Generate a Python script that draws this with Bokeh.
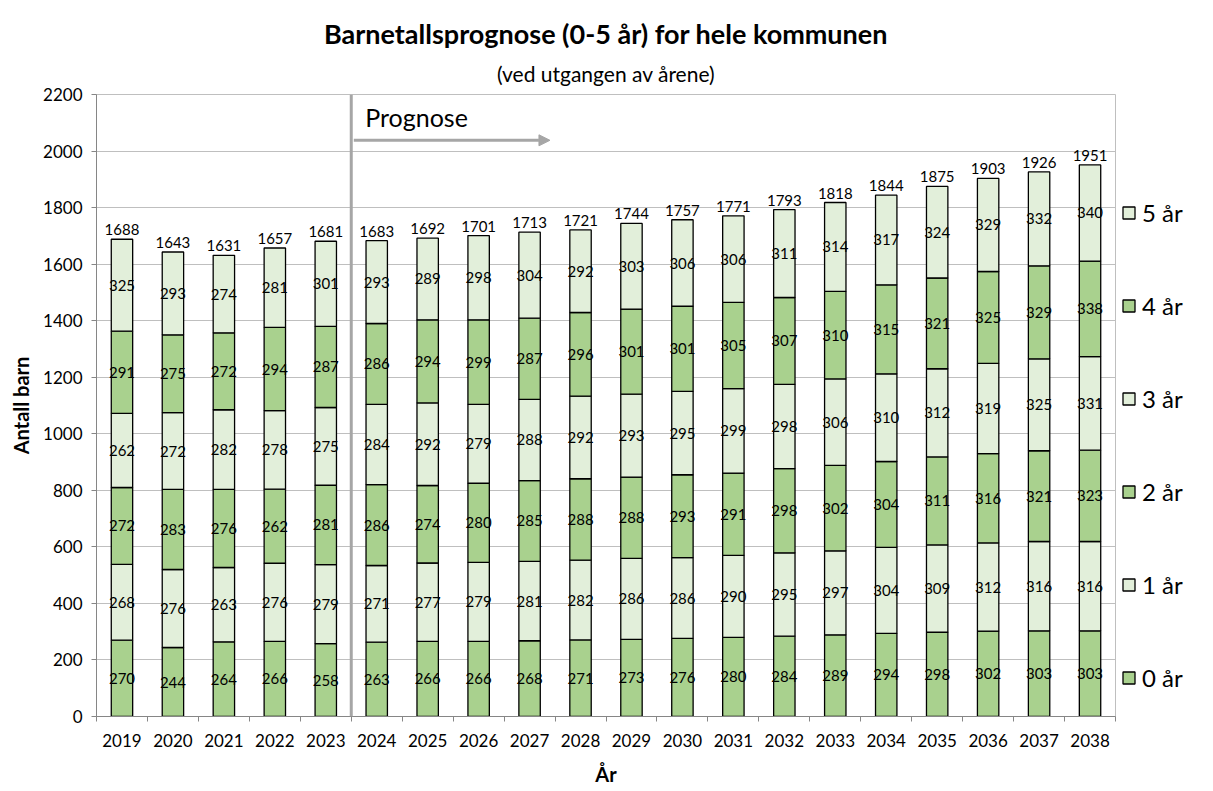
from bokeh.plotting import figure
from bokeh.layouts import row
from bokeh.models import (ColumnDataSource, FixedTicker, Span, Arrow, NormalHead,
                          Label, Legend, LegendItem, Title, Range1d)
from bokeh.core.properties import value
from bokeh.embed import file_html
from bokeh.resources import INLINE

# ---------------- data ----------------
years = list(range(2019, 2039))
year_labels = [str(y) for y in years]
age_groups = ["0 år", "1 år", "2 år", "3 år", "4 år", "5 år"]
age0 = [270, 244, 264, 266, 258, 263, 266, 266, 268, 271, 273, 276, 280, 284, 289, 294, 298, 302, 303, 303]
age1 = [268, 276, 263, 276, 279, 271, 277, 279, 281, 282, 286, 286, 290, 295, 297, 304, 309, 312, 316, 316]
age2 = [272, 283, 276, 262, 281, 286, 274, 280, 285, 288, 288, 293, 291, 298, 302, 304, 311, 316, 321, 323]
age3 = [262, 272, 282, 278, 275, 284, 292, 279, 288, 292, 293, 295, 299, 298, 306, 310, 312, 319, 325, 331]
age4 = [291, 275, 272, 294, 287, 286, 294, 299, 287, 296, 301, 301, 305, 307, 310, 315, 321, 325, 329, 338]
age5 = [325, 293, 274, 281, 301, 293, 289, 298, 304, 292, 303, 306, 306, 311, 314, 317, 324, 329, 332, 340]
totals = [1688, 1643, 1631, 1657, 1681, 1683, 1692, 1701, 1713, 1721, 1744, 1757, 1771, 1793, 1818, 1844, 1875, 1903, 1926, 1951]
y_ticks = list(range(0, 2201, 200))
forecast_start = 2024

series = [age0, age1, age2, age3, age4, age5]
DARK = "#A9D18E"
LIGHT = "#E2EFDA"
colors = [DARK, LIGHT, DARK, LIGHT, DARK, LIGHT]
FONT = "Lato"

data = {"year": years}
for name, vals in zip(age_groups, series):
    data[name] = vals
source = ColumnDataSource(data)

H = 788

# ---------------- main figure ----------------
p = figure(width=1118, height=H, output_backend="svg", toolbar_location=None,
           x_range=(years[0] - 0.5, years[-1] + 0.5), y_range=(0, 2200),
           title="Barnetallsprognose (0-5 år) for hele kommunen",
           min_border_left=96, min_border_right=3, min_border_top=94, min_border_bottom=69)
p.background_fill_color = "white"
p.border_fill_color = "white"
p.outline_line_color = "#BFBFBF"

p.title.align = "center"
p.title.text_font = FONT
p.title.text_font_size = "27px"
p.title.text_font_style = "bold"
p.title.text_color = "#000000"
p.title.standoff = 0
p.add_layout(Title(text="(ved utgangen av årene)", align="center",
                   text_font=FONT, text_font_size="21px", text_font_style="normal",
                   text_color="#000000", standoff=18), "above")

renderers = p.vbar_stack(age_groups, x="year", width=0.42, source=source,
                         fill_color=colors, line_color="#000000", line_width=1.3)

# segment labels
seg_x, seg_y, seg_t = [], [], []
for i, y in enumerate(years):
    base = 0
    for vals in series:
        v = vals[i]
        seg_x.append(y)
        seg_y.append(base + v / 2)
        seg_t.append(str(v))
        base += v
p.text(x=seg_x, y=seg_y, text=seg_t, text_align="center", text_baseline="middle",
       text_font=value(FONT), text_font_size="15px", text_color="#000000")

# totals
p.text(x=years, y=totals, text=[str(t) for t in totals], text_align="center",
       text_baseline="bottom", y_offset=-4, text_font=value(FONT),
       text_font_size="15px", text_color="#000000")

# forecast divider + arrow
div_x = forecast_start - 0.5
p.add_layout(Span(location=div_x, dimension="height", line_color="#A6A6A6", line_width=3))
p.add_layout(Arrow(end=NormalHead(size=11, fill_color="#A6A6A6", line_color="#A6A6A6"),
                   x_start=div_x + 0.05, y_start=2038, x_end=div_x + 3.9, y_end=2038,
                   line_color="#A6A6A6", line_width=3))
p.add_layout(Label(x=div_x, y=2120, x_offset=14, text="Prognose", text_font=FONT,
                   text_font_size="25px", text_baseline="middle", text_color="#000000"))

# axes
p.xgrid.grid_line_color = None
p.ygrid.grid_line_color = "#BFBFBF"
p.ygrid.ticker = FixedTicker(ticks=y_ticks)

p.xaxis.ticker = FixedTicker(ticks=years, minor_ticks=[y - 0.5 for y in years] + [years[-1] + 0.5])
p.xaxis.major_label_overrides = {y: l for y, l in zip(years, year_labels)}
p.xaxis.major_tick_line_color = None
p.xaxis.major_tick_out = 0
p.xaxis.major_tick_in = 0
p.xaxis.minor_tick_line_color = "#868686"
p.xaxis.minor_tick_out = 5
p.xaxis.minor_tick_in = 0
p.xaxis.axis_line_color = "#868686"
p.xaxis.major_label_standoff = 12
p.xaxis.axis_label = "År"
p.xaxis.axis_label_standoff = 12

p.yaxis.ticker = FixedTicker(ticks=y_ticks)
p.yaxis.minor_tick_line_color = None
p.yaxis.major_tick_line_color = "#868686"
p.yaxis.major_tick_out = 5
p.yaxis.major_tick_in = 0
p.yaxis.axis_line_color = "#868686"
p.yaxis.major_label_standoff = 9
p.yaxis.axis_label = "Antall barn"
p.yaxis.axis_label_standoff = 7

for ax in (p.xaxis, p.yaxis):
    ax.major_label_text_font = FONT
    ax.major_label_text_font_size = "17px"
    ax.major_label_text_color = "#000000"
    ax.axis_label_text_font = FONT
    ax.axis_label_text_font_size = "20px"
    ax.axis_label_text_font_style = "bold"
    ax.axis_label_text_color = "#000000"

# ---------------- legend panel ----------------
# key glyphs share the source and styling; the renderers are hidden so only the keys show
lg = figure(width=86, height=H, output_backend="svg", toolbar_location=None,
            x_range=Range1d(years[0] - 0.5, years[-1] + 0.5), y_range=Range1d(1000, 3000),
            x_axis_location=None, y_axis_location=None, min_border=0)
lg.outline_line_color = None
lg.grid.grid_line_color = None
lg.background_fill_color = "white"
lg.border_fill_color = "white"
key_renderers = []
for name, c in zip(age_groups, colors):
    r = lg.vbar(x="year", top=name, width=0.4, source=source,
                fill_color=c, line_color="#000000", line_width=1.3)
    r.visible = False
    key_renderers.append(r)
items = [LegendItem(label=name, renderers=[r]) for name, r in zip(age_groups, key_renderers)][::-1]
legend = Legend(items=items, location=(3, 24), orientation="vertical",
                glyph_width=15, glyph_height=15, label_height=26, spacing=64,
                label_standoff=6, padding=0, margin=0,
                inactive_fill_alpha=0,
                label_text_font=FONT, label_text_font_size="24px", label_text_color="#000000",
                border_line_color=None, background_fill_alpha=0)
lg.add_layout(legend, "center")

layout = row(p, lg)
open("out.html", "w").write(file_html(layout, INLINE))
